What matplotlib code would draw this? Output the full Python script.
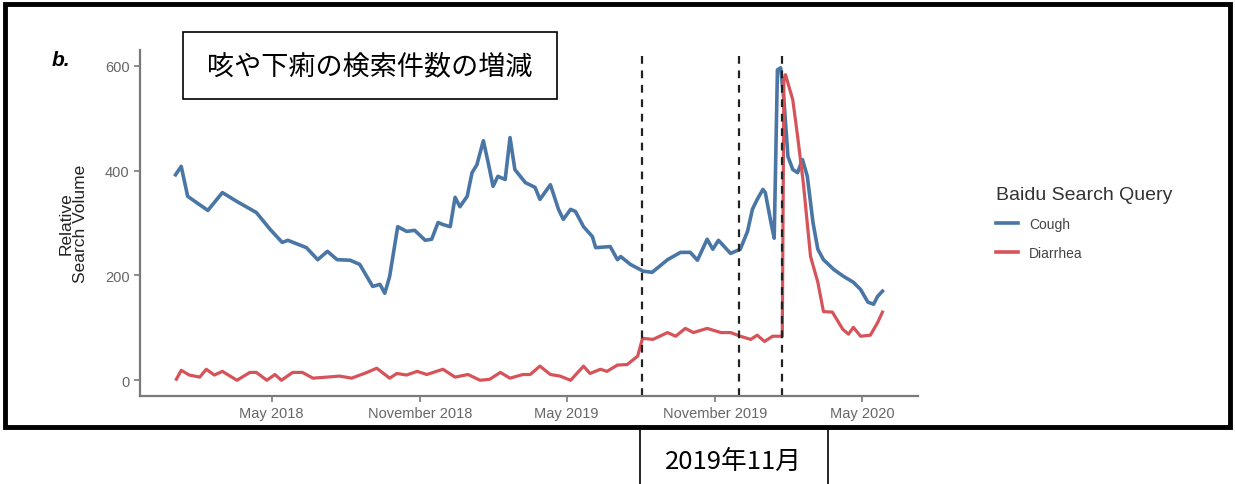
import numpy as np
import pandas as pd
import matplotlib
matplotlib.use("Agg")
import matplotlib.pyplot as plt
from matplotlib.patches import Rectangle
from matplotlib.lines import Line2D

plt.rcParams['font.family'] = ['Liberation Sans', 'DejaVu Sans']

# days since 2018-01-01
cough_days = [1, 8, 16, 27, 41, 59, 77, 101, 118, 133, 140, 163, 177, 189, 201,
              217, 229, 245, 254, 260, 266, 276, 287, 297, 310, 318, 326, 332,
              341, 347, 353, 362, 368, 374, 382, 388, 394, 400, 409, 415, 421,
              434, 446, 452, 465, 475, 481, 490, 496, 506, 517, 521, 539, 548,
              552, 564, 580, 591, 610, 626, 638, 647, 659, 666, 673, 688, 700,
              709, 715, 721, 728, 731, 738, 742, 746, 750, 754, 759, 765, 771,
              777, 783, 790, 796, 803, 816, 828, 840, 849, 858, 865, 870, 876]
cough_vals = [392, 408, 351, 339, 324, 358, 341, 320, 288, 263, 267, 253, 230, 246, 230,
              229, 221, 179, 183, 166, 198, 293, 284, 286, 267, 269, 301, 297,
              293, 349, 331, 351, 396, 411, 457, 415, 370, 389, 383, 463, 402,
              377, 368, 345, 373, 326, 307, 326, 322, 293, 274, 253, 255, 230,
              236, 221, 208, 206, 230, 244, 244, 229, 269, 250, 267, 242, 250,
              284, 326, 345, 364, 358, 301, 271, 592, 596, 535, 427, 402, 396,
              421, 389, 301, 250, 230, 211, 198, 187, 173, 149, 145, 160, 170]

diarrhea_days = [2, 8, 18, 31, 39, 49, 59, 77, 93, 101, 114, 124, 132, 146, 158,
                 171, 188, 204, 219, 238, 250, 266, 275, 287, 300, 312, 332, 347,
                 363, 378, 390, 403, 415, 431, 440, 452, 465, 477, 490, 506, 514,
                 527, 535, 548, 560, 573, 579, 592, 610, 620, 632, 642, 659, 676,
                 688, 700, 713, 721, 730, 740, 752, 754, 756, 765, 771, 778, 787,
                 796, 803, 814, 827, 834, 840, 849, 861, 870, 876]
diarrhea_vals = [2, 19, 10, 6, 21, 10, 17, 0, 15, 15, 0, 11, 0, 15, 15,
                 4, 6, 8, 4, 15, 23, 4, 13, 10, 17, 11, 21, 6,
                 11, 0, 2, 15, 4, 11, 11, 27, 11, 8, 0, 27, 13,
                 21, 17, 29, 30, 46, 80, 78, 91, 84, 99, 91, 99, 91,
                 91, 84, 78, 86, 74, 84, 84, 573, 583, 535, 465, 377, 236,
                 187, 131, 130, 97, 88, 101, 84, 86, 110, 130]

events = ['2019-08-02', '2019-12-01', '2020-01-23']
tick_dates = ['2018-05-01', '2018-11-01', '2019-05-01', '2019-11-01', '2020-05-01']
tick_labels = ['May 2018', 'November 2018', 'May 2019', 'November 2019', 'May 2020']

base = pd.Timestamp('2018-01-01')
cough_x = base + pd.to_timedelta(cough_days, unit='D')
diarrhea_x = base + pd.to_timedelta(diarrhea_days, unit='D')

blue = '#4a76a6'
red = '#d7535a'

fig = plt.figure(figsize=(12.35, 4.85), dpi=100)
ax = fig.add_axes([140/1235, 1 - 397/485, 778/1235, 346/485])

ax.plot(cough_x, cough_vals, color=blue, lw=2.6, solid_joinstyle='round')
ax.plot(diarrhea_x, diarrhea_vals, color=red, lw=2.3, solid_joinstyle='round')
for d in events:
    ax.axvline(pd.Timestamp(d), color='#222222', lw=1.6, ls=(0, (3.5, 3)))

ax.set_xlim(base + pd.Timedelta(days=-43), base + pd.Timedelta(days=920))
ax.set_ylim(-30, 630)
ax.set_yticks([0, 200, 400, 600])
ax.set_xticks(pd.to_datetime(tick_dates))
ax.set_xticklabels(tick_labels)

for s in ['top', 'right']:
    ax.spines[s].set_visible(False)
for s in ['left', 'bottom']:
    ax.spines[s].set_color('#7a7a7a')
    ax.spines[s].set_linewidth(1.6)
ax.tick_params(colors='#7a7a7a', labelcolor='#666666', labelsize=10.5, length=4, width=1.2)
ax.set_ylabel('Relative\nSearch Volume', fontsize=12.5, color='#222222', labelpad=12,
              linespacing=1.0)

# legend
handles = [Line2D([], [], color=blue, lw=2.6),
           Line2D([], [], color=red, lw=2.6)]
leg = fig.legend(handles, ['Cough', 'Diarrhea'], title='Baidu Search Query',
                 loc='upper left', bbox_to_anchor=(983/1235, 1 - 174/485),
                 frameon=False, fontsize=10, title_fontsize=14,
                 handlelength=1.6, handletextpad=0.8, labelspacing=1.05)
leg._legend_box.align = 'left'
leg.get_title().set_color('#333333')
for t in leg.get_texts():
    t.set_color('#444444')

fig.text(52/1235, 1 - 60/485, 'b.', fontsize=15, fontweight='bold', style='italic',
         va='center', ha='left')

# title box
fig.patches.append(Rectangle((183/1235, 1 - 100/485), 374/1235, 67/485,
                             transform=fig.transFigure, fill=False, ec='black', lw=1.2))
fig.text(370/1235, 1 - 67/485, '咳や下痢の検索件数の増減', fontsize=19.5,
         family=['Noto Sans CJK JP', 'DejaVu Sans'], ha='center', va='center')

# outer frame
fig.patches.append(Rectangle((5/1235, 1 - 428/485), 1225/1235, 423/485,
                             transform=fig.transFigure, fill=False, ec='black', lw=3.5))

# bottom annotation box
fig.patches.append(Rectangle((640/1235, -0.02), 188/1235, 0.02 + 1 - 428/485,
                             transform=fig.transFigure, fill=False, ec='black', lw=1.2))
fig.text(733/1235, 1 - 462/485, '2019年11月', fontsize=18.5,
         family=['Noto Sans CJK JP', 'DejaVu Sans'], ha='center', va='center')

fig.savefig('out.png', dpi=100)
